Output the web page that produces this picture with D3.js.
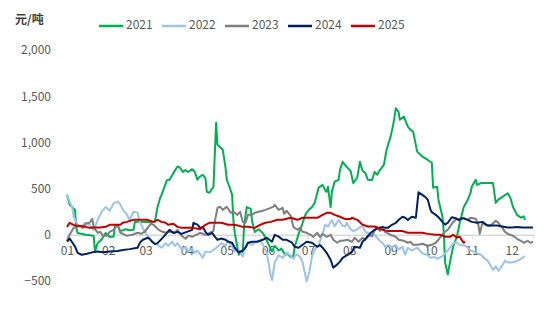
<!DOCTYPE html>
<html>
<head>
<meta charset="utf-8">
<script src="https://cdn.jsdelivr.net/npm/d3@7"></script>
<style>
  body { margin: 0; background: #fff; }
  text { font-family: "Noto Sans CJK SC", "Noto Sans", sans-serif; }
</style>
</head>
<body>
<svg id="chart" width="554" height="312"></svg>
<script>
// chart data, [day of year, 元/吨]
const years = ["2021", "2022", "2023", "2024", "2025"];
const monthLabels = ["01","02","03","04","05","06","07","08","09","10","11","12"];
const yTicks = [-500, 0, 500, 1000, 1500, 2000];
const unitLabel = "元/吨";

const s2021 = [[0,433],[2,325],[6,270],[7,75],[8,20],[14,0],[20,-10],[21,-180],[23,-90],[26,-50],[29,20],[32,-20],[35,-20],[36,90],[38,108],[40,40],[44,60],[47,50],[50,54],[51,140],[55,140],[62,135],[66,140],[68,300],[70,400],[71,433],[75,590],[77,595],[80,670],[83,740],[85,725],[87,680],[89,700],[91,680],[94,710],[96,680],[98,595],[99,620],[102,650],[104,610],[105,465],[107,455],[110,520],[112,1212],[113,974],[117,920],[119,735],[120,595],[122,520],[124,433],[125,150],[126,20],[129,-216],[132,-180],[133,90],[135,300],[138,280],[139,150],[141,30],[144,60],[147,20],[149,-30],[151,-90],[154,-180],[156,-120],[159,-170],[161,-150],[164,-220],[165,-200],[168,-240],[170,-230],[171,-130],[174,10],[177,130],[179,216],[181,260],[184,300],[186,345],[189,510],[192,540],[194,480],[195,465],[196,520],[198,300],[199,470],[201,575],[204,595],[205,700],[207,790],[210,735],[213,690],[215,560],[218,620],[220,790],[222,690],[224,670],[226,595],[229,590],[231,680],[233,650],[235,700],[238,757],[240,920],[243,1060],[245,1190],[247,1370],[249,1330],[250,1245],[253,1280],[256,1170],[258,1135],[260,1115],[263,900],[267,845],[271,810],[274,780],[275,510],[278,520],[279,380],[282,195],[283,20],[284,-300],[286,-430],[288,-270],[290,-130],[293,-10],[295,130],[298,300],[301,380],[303,450],[304,520],[307,595],[308,540],[311,560],[316,560],[320,560],[322,345],[324,380],[327,410],[331,450],[333,400],[335,300],[338,216],[341,185],[343,200],[344,160]];

const s2022 = [[0,433],[2,360],[4,290],[5,200],[8,110],[10,90],[14,130],[16,120],[20,50],[23,160],[26,250],[29,300],[30,290],[32,260],[35,340],[38,360],[40,330],[42,270],[45,220],[47,160],[50,250],[53,240],[55,130],[59,20],[62,-40],[66,-100],[68,-108],[71,-140],[74,-90],[76,-120],[79,-75],[81,-120],[83,-90],[86,-160],[89,-130],[91,-180],[94,-150],[96,-195],[98,-170],[102,-250],[104,-180],[107,-190],[110,-165],[113,-130],[116,-90],[119,-120],[121,-60],[124,-130],[126,-180],[129,-160],[132,-235],[134,-130],[136,-80],[139,-110],[142,-75],[145,-60],[147,-100],[150,-195],[153,-440],[154,-490],[156,-300],[159,-220],[162,-250],[164,-210],[166,-200],[170,-260],[172,-210],[175,-235],[177,-300],[180,-505],[182,-400],[184,-235],[186,-160],[189,-108],[192,10],[194,110],[196,90],[199,160],[201,90],[204,160],[207,100],[209,90],[210,130],[213,60],[215,40],[218,60],[222,100],[224,30],[226,20],[229,-20],[231,0],[234,-50],[237,-90],[239,-130],[241,-110],[244,-130],[247,-110],[249,-160],[252,-130],[254,-216],[256,-140],[259,-170],[263,-140],[267,-200],[271,-220],[273,-250],[276,-240],[278,-260],[282,-230],[286,-170],[289,-110],[292,-80],[295,-108],[299,-120],[303,-165],[307,-195],[311,-216],[313,-250],[316,-280],[320,-380],[322,-340],[324,-390],[327,-330],[329,-280],[331,-300],[334,-300],[337,-290],[341,-260],[344,-230]];

const s2023 = [[0,-65],[2,0],[5,75],[8,86],[10,97],[12,75],[14,119],[17,130],[19,173],[20,86],[23,22],[25,32],[27,-11],[30,-11],[32,32],[35,54],[38,108],[40,22],[42,11],[45,-11],[49,0],[53,22],[56,11],[59,43],[61,86],[63,119],[65,108],[68,65],[70,43],[74,22],[77,32],[81,22],[83,54],[86,-11],[89,-43],[91,-11],[94,-22],[97,0],[100,22],[104,0],[107,22],[110,43],[111,140],[113,292],[115,303],[117,270],[120,303],[123,238],[125,249],[128,216],[130,249],[132,140],[134,130],[136,216],[139,216],[141,238],[144,249],[147,260],[149,270],[153,292],[155,303],[156,325],[159,270],[162,292],[163,227],[165,260],[168,206],[170,86],[173,54],[175,75],[177,32],[180,22],[183,0],[185,-22],[188,22],[190,-22],[192,11],[195,-22],[198,0],[200,-54],[203,-86],[205,-65],[207,-65],[211,-54],[214,-76],[216,-32],[219,-76],[222,-32],[224,-54],[226,-11],[229,-11],[231,43],[233,86],[235,43],[237,75],[239,32],[243,0],[247,-22],[249,-54],[253,-65],[256,-86],[258,-76],[260,-108],[264,-108],[267,-97],[269,-108],[271,-119],[274,-108],[277,-86],[279,-54],[280,-32],[283,22],[286,54],[288,97],[290,140],[293,173],[295,162],[298,184],[301,162],[303,184],[307,173],[309,108],[310,11],[312,130],[314,108],[318,97],[322,151],[324,130],[327,75],[329,32],[331,11],[335,-11],[338,-43],[341,-65],[343,-86],[346,-65],[348,-86],[350,-76]];

const s2024 = [[0,-75],[2,-40],[6,-126],[8,-195],[11,-216],[15,-205],[19,-190],[23,-180],[27,-190],[32,-180],[38,-175],[42,-165],[47,-155],[53,-140],[55,-80],[57,-54],[61,-30],[64,-75],[66,-100],[68,-90],[72,-30],[75,20],[77,54],[80,20],[83,32],[86,10],[90,32],[94,54],[95,130],[98,110],[100,75],[102,86],[104,32],[106,0],[109,20],[111,-20],[113,-54],[116,-40],[119,-54],[121,-75],[124,-86],[126,-140],[129,-190],[132,-170],[134,-140],[136,-86],[139,-75],[143,-75],[147,-54],[150,-32],[154,-75],[156,0],[159,-20],[162,-54],[165,-54],[169,-86],[171,-130],[174,-140],[177,-108],[180,-75],[184,-86],[188,-130],[190,-110],[192,-140],[195,-195],[198,-270],[200,-357],[203,-320],[205,-290],[207,-250],[211,-216],[214,-185],[216,-130],[220,-140],[222,-75],[225,-32],[228,20],[231,54],[234,75],[237,86],[239,75],[241,75],[244,108],[247,130],[249,160],[252,195],[254,184],[256,160],[259,195],[262,184],[264,460],[266,440],[269,410],[271,380],[273,270],[274,245],[277,216],[279,190],[282,140],[284,110],[286,130],[289,190],[292,180],[294,160],[297,180],[301,162],[304,140],[308,130],[312,140],[316,100],[320,100],[323,100],[327,90],[331,80],[334,80],[338,85],[342,80],[346,80],[350,80]];

const s2025 = [[0,86],[2,130],[6,100],[10,95],[14,86],[17,75],[21,80],[25,80],[29,86],[32,108],[36,108],[40,108],[42,130],[45,140],[50,162],[55,162],[60,162],[65,140],[68,162],[71,140],[74,130],[76,108],[80,120],[83,86],[86,75],[91,75],[95,75],[100,60],[104,108],[107,130],[111,130],[116,130],[121,108],[126,108],[132,86],[136,86],[141,75],[145,108],[149,130],[153,140],[158,162],[162,162],[168,184],[173,162],[177,184],[183,184],[188,184],[192,216],[195,238],[198,238],[201,216],[205,195],[209,170],[213,170],[214,184],[218,162],[222,110],[226,90],[231,90],[237,54],[241,40],[247,40],[252,40],[256,22],[262,22],[267,22],[271,10],[277,0],[280,0],[284,-20],[288,-20],[290,0],[293,-30],[295,-20],[297,-70],[298,-86],[299,-75]];

const seriesData = [s2021, s2022, s2023, s2024, s2025];
const lineColors = ["#00b050", "#9dc3e6", "#7f7f7f", "#002060", "#c00000"];

const svg = d3.select("#chart");
const x = d3.scaleLinear().domain([0, 350]).range([67, 533]);
const y = d3.scaleLinear().domain([-500, 2000]).range([281, 50]);

// unit label
svg.append("text")
    .attr("x", 15).attr("y", 21)
    .attr("dominant-baseline", "middle")
    .attr("font-size", 12).attr("font-weight", "bold")
    .attr("fill", "#404040")
    .text(unitLabel);

// y axis labels, no line
const yAxis = d3.axisLeft(y).tickValues(yTicks).tickFormat(d3.format(",")).tickSize(0).tickPadding(0);
const gy = svg.append("g").attr("transform", "translate(51,0)").call(yAxis);
gy.select(".domain").remove();
gy.selectAll("text").attr("font-size", 12).attr("fill", "#595959")
    .style("font-family", '"Noto Sans CJK SC", "Noto Sans", sans-serif');

// x axis on the zero line, ticks at month starts
const monthStarts = d3.range(12).map(m => d3.timeDay.count(new Date(2021, 0, 1), new Date(2021, m, 1)));
const xAxis = d3.axisBottom(x).tickValues(monthStarts).tickFormat((d, i) => monthLabels[i]).tickSize(4).tickPadding(8);
const gx = svg.append("g").attr("transform", "translate(0," + y(0) + ")").call(xAxis);
gx.select(".domain").attr("stroke", "#d9d9d9").attr("stroke-width", 1.5);
gx.selectAll(".tick line").attr("stroke", "#d9d9d9");
gx.selectAll("text").attr("font-size", 12).attr("fill", "#595959")
    .style("font-family", '"Noto Sans CJK SC", "Noto Sans", sans-serif');

// lines
const line = d3.line().x(d => x(d[0])).y(d => y(d[1]));
svg.append("g").selectAll("path")
    .data(seriesData)
    .join("path")
    .attr("d", line)
    .attr("fill", "none")
    .attr("stroke", (d, i) => lineColors[i])
    .attr("stroke-width", 2)
    .attr("stroke-linejoin", "round");

// legend
const legend = svg.append("g").selectAll("g")
    .data(years)
    .join("g")
    .attr("transform", (d, i) => "translate(" + (99 + i * 63) + ",26)");
legend.append("line")
    .attr("x1", 0).attr("x2", 24)
    .attr("stroke", (d, i) => lineColors[i])
    .attr("stroke-width", 2.5);
legend.append("text")
    .attr("x", 27)
    .attr("dominant-baseline", "middle")
    .attr("font-size", 12)
    .attr("fill", "#595959")
    .text(d => d);
</script>
</body>
</html>
